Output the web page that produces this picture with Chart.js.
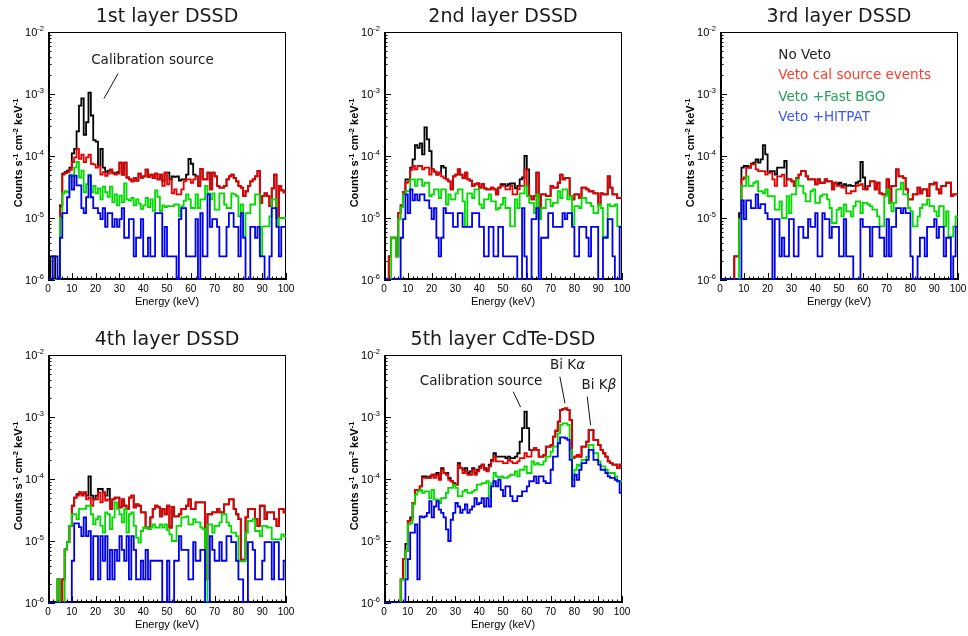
<!DOCTYPE html>
<html>
<head>
<meta charset="utf-8">
<title>Background spectra per layer</title>
<script src="https://cdn.jsdelivr.net/npm/chart.js@4.4.1/dist/chart.umd.min.js"></script>
<style>
  html, body { margin: 0; padding: 0; background: #fff; }
  #page { position: relative; width: 968px; height: 636px; overflow: hidden; }
  #page canvas { position: absolute; }
</style>
</head>
<body>
<div id="page">
  <canvas id="layer1" width="294" height="320" style="left:0px;top:0px"></canvas>
  <canvas id="layer2" width="294" height="320" style="left:336px;top:0px"></canvas>
  <canvas id="layer3" width="294" height="320" style="left:672px;top:0px"></canvas>
  <canvas id="layer4" width="294" height="320" style="left:0px;top:323px"></canvas>
  <canvas id="layer5" width="294" height="320" style="left:336px;top:323px"></canvas>
</div>
<script>
// spectra in 1 keV bins (0-100 keV), values in units of 1e-5 counts/s/cm2/keV
const UNIT = 1e-5;
const Y_MIN = 1e-6;
const Y_MAX = 1e-2;

const binLow = Array.from({ length: 100 }, (_, i) => i);
const xTickLabels = [0, 10, 20, 30, 40, 50, 60, 70, 80, 90, 100];
const yDecades = [-6, -5, -4, -3, -2];

const seriesNames = ["No Veto", "Veto cal source events", "Veto +Fast BGO", "Veto +HITPAT"];
const lineColors = ["#000000", "#e80000", "#00dc00", "#0000f0"];
const legendColors = ["#222222", "#ff3b2b", "#23a05e", "#3a55ff"];
const panelTitles = ["1st layer DSSD", "2nd layer DSSD", "3rd layer DSSD", "4th layer DSSD", "5th layer CdTe-DSD"];

// 1st layer
const l1NoVeto = [0,0.24,0.24,0,0,1.6,5.2,5.5,5.8,6.5, 11,13,25,65,85,22,35,105,45,18,
  17,7,13,6.5,5.5,5.8,6.0,5.4,5.2,5.5, 7.8,5.0,7.8,4.5,4.2,3.9,4.4,4.0,5.2,4.5,
  4.7,6.0,4.6,5.0,4.4,5.2,4.2,5.0,4.0,5.4, 5.4,4.2,4.7,4.6,4.7,4.0,4.2,4.2,5.0,9.0,
  7.5,5.0,4.7,3.3,6.2,4.2,4.2,5.4,2.9,5.4, 4.7,3.3,3.1,3.1,3.3,4.2,4.7,5.0,4.4,3.9,
  3.3,3.1,2.25,2.7,3.3,3.9,4.2,4.7,5.7,1.75, 2.25,2.5,2.25,1.55,3.0,5.0,1.0,3.3,2.8,2.6];
const l1VetoCal = [0,0,0,0,0,1.5,5.0,5.3,5.5,6.0, 8.0,9.5,13,9.0,10.5,8.0,9.5,10.5,7.5,7.3,
  6.5,6.9,5.0,5.5,4.8,5.2,6.0,5.2,5.0,5.2, 7.8,5.0,7.8,4.5,4.2,3.9,4.4,4.0,5.2,4.5,
  4.7,6.0,4.6,5.0,4.4,5.2,4.2,5.0,3.3,5.4, 3.5,4.2,2.5,2.9,2.4,2.4,2.9,3.9,4.2,4.2,
  3.7,4.2,4.7,3.3,6.2,4.2,4.2,5.4,2.9,5.4, 4.7,3.3,3.1,3.1,3.3,4.2,4.7,5.0,4.4,3.9,
  3.3,3.1,2.25,2.7,3.3,3.9,4.2,4.7,5.7,1.75, 2.25,2.5,2.25,1.55,3.0,5.0,1.0,3.3,2.8,2.6];
const l1FastBGO = [0,0,0,0,0,1.0,2.5,2.7,2.6,5.0, 4.8,6.5,8.0,4.5,5.8,2.6,3.5,5.0,2.6,3.3,
  2.5,3.0,2.0,3.2,2.6,2.2,3.2,1.8,2.4,1.6, 2.3,1.8,3.6,2.0,1.9,2.1,1.6,2.0,1.7,1.4,
  1.6,2.1,1.5,2.0,1.3,2.8,2.2,1.3,1.6,1.5, 1.55,1.55,1.55,1.65,1.65,1.06,1.55,1.9,2.4,2.0,
  1.45,1.45,2.4,1.45,2.0,2.0,3.3,2.5,2.0,2.5, 1.36,1.36,2.5,2.5,1.65,1.45,1.45,2.5,2.4,2.25,
  1.06,1.65,0.5,1.2,1.2,1.65,1.65,2.4,2.4,0.25, 0.73,0.73,0.73,1.06,2.0,2.0,0.73,1.0,1.0,1.0];
const l1Hitpat = [0,0,0.24,0.24,0,0.48,1.2,1.2,2.16,4.8, 2.88,4.8,3.36,3.36,1.44,1.2,2.16,4.8,2.16,1.44,
  1.44,1.2,0.96,1.44,0.72,1.2,1.2,0.72,0.96,0.72, 0.96,1.44,0.48,0.48,0.96,0.96,0.24,0.48,0.48,0.96,
  0.24,0.24,0.48,0.24,0.24,1.2,1.2,1.2,0.24,0.72, 0.24,0.24,0.24,0.24,0,0.96,1.44,1.44,0.24,0.24,
  0.24,0.24,0.96,0,1.2,0.24,0.24,2.4,0.72,0.96, 0.96,0.72,0.24,0.24,0.24,0.72,1.2,1.2,0.72,0.72,
  0.24,1.2,0.48,0,0,0.72,0.72,0.48,0.72,0.24, 0.24,0,0,0.24,1.44,1.44,0.72,0.24,0.72,0.72];

// 2nd layer
const l2NoVeto = [0,0,0.24,0.48,0.48,0.24,1.2,1.6,2.6,4.2, 4.2,6.5,8.8,15,13.5,16,10.6,29,18.6,12,
  6.1,5.6,5.0,5.4,6.9,6.5,4.2,3.9,2.9,4.7, 5.0,6.1,5.0,4.4,5.4,4.2,4.0,3.3,3.5,3.6,
  3.1,3.5,3.0,2.9,2.9,3.1,2.9,2.4,3.1,3.5, 3.5,3.3,3.5,3.6,3.6,3.0,3.3,4.2,4.5,10,
  6.1,2.25,2.0,2.25,5.4,1.0,2.4,2.4,2.25,2.25, 3.3,3.1,3.1,3.7,5.0,4.2,4.4,4.4,2.25,2.0,
  2.4,2.4,2.1,3.1,3.1,2.9,2.7,2.7,2.5,2.5, 1.65,2.5,2.4,2.4,4.7,3.1,2.4,2.4,2.1,2.1];
const l2VetoCal = [0,0,0.24,0.48,0.48,0.24,1.2,1.6,2.6,3.7, 3.9,6.0,6.9,6.1,6.9,6.9,6.1,6.5,6.5,5.0,
  6.1,5.6,5.0,5.4,4.7,4.4,4.2,3.9,2.9,4.7, 5.0,6.1,5.0,4.4,5.4,4.2,4.0,3.3,3.5,3.6,
  3.1,3.5,3.0,2.9,2.9,3.1,2.9,2.4,3.1,3.3, 3.3,2.9,2.9,3.3,2.4,2.4,2.9,3.3,3.3,6.1,
  3.3,2.25,2.0,2.25,5.4,1.0,2.4,2.4,2.25,2.25, 3.3,3.1,3.1,3.7,5.0,4.2,4.4,4.4,2.25,2.0,
  2.4,2.4,2.1,3.1,3.1,2.9,2.7,2.7,2.5,2.5, 1.65,2.5,2.4,2.4,4.7,3.1,2.4,2.4,2.1,2.1];
const l2FastBGO = [0,0,0,0.48,0.48,0.24,0.96,1.5,2.4,2.7, 2.7,4.2,4.2,3.3,4.2,4.2,3.3,3.7,3.7,2.25,
  2.4,2.9,2.9,2.1,2.9,2.9,1.65,2.4,2.0,2.0, 2.5,2.9,2.9,1.86,0.73,2.5,2.5,2.1,2.9,2.9,
  1.65,1.45,2.0,2.0,2.4,1.86,1.86,1.36,1.45,1.65, 2.1,1.45,1.45,0.73,0.73,2.0,1.45,2.5,2.5,3.3,
  2.25,1.75,1.75,1.2,2.4,0.96,1.45,1.45,2.0,2.0, 1.55,1.75,1.75,2.7,2.1,2.9,2.9,2.0,2.25,0.78,
  1.55,1.55,1.45,2.1,2.1,1.75,1.75,1.55,1.2,1.2, 1.65,1.45,0.5,0.5,1.65,1.55,1.55,1.65,0.73,0.73];
const l2Hitpat = [0,0,0,0,0,0,0,0.48,0.96,2.4, 1.2,2.88,1.92,2.4,1.92,2.4,2.4,1.92,1.92,1.44,
  0.96,1.44,0.48,0.24,0.48,1.44,1.2,1.2,1.2,0.72, 0.72,1.2,1.2,0.72,0.72,0.72,0.72,1.2,1.2,1.2,
  0.72,0.72,0.24,0.24,0.72,0.72,0.24,0.24,0.72,0.72, 0.24,0.24,0.24,0.24,0.24,0.24,0,0,1.44,0.24,
  0,0,0.96,0.96,1.44,0,0.48,0.48,0.48,1.2, 1.2,0.72,0.72,0.72,0.72,1.2,0.96,1.2,1.2,0.72,
  0.24,0.24,0.72,0.72,0.72,0.48,0.24,0.72,0.72,0.72, 0,0,0.48,0.48,0.96,0.96,0.24,0,0,0.72];

// 3rd layer
const l3NoVeto = [0,0,0,0,0,0,0.24,0.24,1.2,6.5, 6.9,6.9,6.5,7.5,7.8,8.8,7.8,8.8,15,10.6,
  5.4,5.7,5.7,5.0,6.5,6.5,6.5,8.3,4.2,4.2, 3.9,3.3,4.4,5.0,5.7,5.7,4.7,4.2,4.2,4.2,
  3.5,4.2,3.7,3.7,4.2,3.9,3.9,2.9,3.7,3.5, 3.7,3.3,3.5,3.3,3.4,3.3,3.3,3.7,3.9,8.0,
  4.5,2.9,3.3,3.9,3.9,2.9,3.7,2.5,2.4,2.4, 4.2,1.75,3.3,3.3,6.1,4.7,4.7,4.4,2.9,2.0,
  2.0,2.4,2.4,3.1,2.5,2.9,2.9,2.25,3.5,3.5, 3.7,2.9,2.5,3.3,3.3,3.7,3.7,2.25,2.4,2.4];
const l3VetoCal = [0,0,0,0,0,0,0.24,0.24,0.96,4.2, 4.5,6.5,6.5,7.3,7.3,6.1,5.7,5.7,5.7,5.0,
  5.4,5.4,4.2,3.3,4.7,4.7,5.0,3.3,4.2,4.2, 3.9,3.3,4.4,5.0,5.7,5.7,4.7,4.2,4.2,4.2,
  3.5,4.2,3.7,3.7,4.2,3.9,3.9,2.9,3.7,3.3, 3.3,3.1,3.1,2.5,2.5,2.7,2.7,3.3,3.4,3.5,
  2.9,2.9,3.3,3.9,3.9,2.9,3.7,2.5,2.4,2.4, 4.2,1.75,3.3,3.3,6.1,4.7,4.7,4.4,2.9,2.0,
  2.0,2.4,2.4,3.1,2.5,2.9,2.9,2.25,3.5,3.5, 3.7,2.9,2.5,3.3,3.3,3.7,3.7,2.25,2.4,2.4];
const l3FastBGO = [0,0,0,0,0,0,0,0,0.96,3.3, 3.3,4.7,3.3,3.3,3.7,3.9,2.7,2.7,2.5,2.9,
  2.25,2.25,2.25,1.36,1.36,1.86,1.0,1.0,2.25,1.2, 2.4,2.4,4.2,3.3,3.3,2.5,1.86,1.86,2.7,2.9,
  1.75,1.75,2.25,2.4,2.4,2.0,1.45,0.83,0.83,1.36, 1.45,1.06,1.65,1.28,1.28,1.06,1.55,1.86,1.86,1.2,
  1.75,1.75,1.65,1.55,1.36,1.36,1.06,0.73,0.73,2.25, 2.9,1.75,1.28,1.75,2.9,2.9,3.7,2.4,2.4,1.45,
  1.28,0.73,0.73,1.06,1.45,1.65,1.65,2.0,1.55,1.55, 1.28,1.06,1.55,1.55,0.73,1.28,0.5,0.5,0.73,1.06];
const l3Hitpat = [0,0,0,0,0,0,0,0,0,1.92, 0.96,1.92,1.92,1.44,1.44,2.4,1.44,1.68,1.68,1.2,
  0.96,0.96,0,0.96,0.96,0.24,0.48,0.24,0.24,0.96, 0.96,0.24,0.24,0.72,0.72,0.48,0.48,0.96,0.72,0.72,
  1.2,0.24,0.24,1.2,0.96,0.96,0.48,0.72,0.72,0.72, 0.24,0.24,0.96,0.24,0.24,0.24,0,0,0,0.96,
  0.72,0.72,0.72,0.24,0.72,0.72,0.72,0.48,0.48,0.24, 0.96,0.24,0.72,0.72,1.44,1.44,1.2,1.44,1.2,1.2,
  0.24,0,0,0.24,0.48,0.48,0.24,0.72,0.72,0.72, 0.96,0.48,0.72,0.72,0.24,0.48,0.48,0,0.24,0.72];

// 4th layer
const l4NoVeto = [0,0,0,0,0.24,0,0.24,0.73,0.96,1.75, 3.7,5.0,5.7,6.1,5.7,6.1,5.4,11,5.4,4.7,
  5.4,6.9,6.9,6.1,5.4,6.9,3.3,4.7,5.0,5.0, 3.5,4.7,3.7,3.3,5.0,5.4,3.5,3.9,3.7,2.9,
  2.9,1.65,1.55,2.4,3.3,3.7,3.5,2.5,3.3,2.7, 3.7,1.65,3.5,2.5,2.5,2.7,3.3,3.3,3.7,4.7,
  3.3,3.3,4.2,4.2,4.2,4.2,0.24,2.7,2.7,2.9, 2.9,3.3,2.9,2.9,3.9,3.9,4.7,4.7,3.3,2.7,
  2.25,0.5,0.5,2.4,3.3,3.3,3.3,2.25,1.75,3.7, 3.7,2.25,2.9,2.9,2.9,2.25,1.75,3.3,3.3,2.9];
const l4VetoCal = [0,0,0,0,0.24,0,0.24,0.73,0.96,1.75, 3.7,5.0,5.4,6.1,5.4,6.1,4.7,5.0,3.7,4.7,
  4.7,6.1,4.2,6.1,4.5,4.7,3.3,4.7,5.0,5.0, 3.5,4.7,3.7,3.3,5.0,5.4,3.5,3.9,3.7,2.9,
  2.9,1.65,1.55,2.4,3.3,3.7,3.5,2.5,3.3,2.7, 3.7,1.65,3.5,2.5,2.5,2.7,3.3,3.3,3.7,4.7,
  3.3,3.3,4.2,4.2,4.2,4.2,0.24,2.7,2.7,2.9, 2.9,3.3,2.9,2.9,3.9,3.9,4.7,4.7,3.3,2.7,
  2.25,0.5,0.5,2.4,3.3,3.3,3.3,2.25,1.75,3.7, 3.7,2.25,2.9,2.9,2.9,2.25,1.75,3.3,3.3,2.9];
const l4FastBGO = [0,0,0,0,0.24,0,0,0.73,0.96,1.75, 2.7,2.7,2.25,3.3,3.3,3.3,3.7,3.7,2.7,1.86,
  2.25,2.5,1.75,1.36,2.9,2.7,1.55,2.4,4.2,3.3, 2.7,2.0,3.3,1.36,2.7,2.9,1.75,1.13,0.94,1.45,
  1.65,1.65,1.55,1.65,1.86,1.65,1.65,1.86,1.65,1.86, 1.5,1.28,1.0,1.0,1.75,1.75,2.4,2.4,2.5,1.86,
  1.86,2.25,2.0,2.0,1.65,1.55,0,1.86,1.86,1.36, 1.75,1.75,2.0,2.7,2.7,2.0,1.75,1.36,1.36,1.2,
  0.47,0.47,0.47,1.36,2.1,2.1,2.25,1.45,1.45,1.2, 1.75,1.75,1.65,1.65,1.06,1.06,1.06,1.06,1.28,1.2];
const l4Hitpat = [0,0,0,0,0,0,0,0,0,0, 0.48,1.92,1.92,1.68,1.2,2.4,1.2,1.44,0.24,1.2,
  1.2,0.24,1.2,0.48,1.2,0.24,0.72,0.24,0.72,0.48, 1.2,0.72,0.48,1.2,0.24,1.2,0.72,0.24,0.24,0.48,
  0.24,0.72,0.24,0.48,0.48,0.48,0.48,0.48,0,0, 0.48,0,0,0.48,0.48,1.2,0.72,0.72,0.72,0.24,
  0.24,0.96,0.48,0.48,0.72,0.72,0,0,1.2,0.72, 0.48,0.48,0.96,0.48,0.48,1.2,1.2,0.96,0.96,0.48,
  0.24,0.24,0,0,0.96,0.96,0.72,0.24,0.24,0.24, 0.48,0.96,0.96,0.96,0.24,0.96,0.96,0.24,0.24,0.48];

// 5th layer (CdTe)
const l5NoVeto = [0,0,0,0,0,0,0,0.24,0.51,0.9, 2.1,2.4,4.1,6.7,6.7,7.6,11,11,10.4,11,
  11.7,11.7,12.5,10.4,15,12.5,12.5,10.4,9.2,8.6, 8.1,18,15,14.1,15,12.5,13.3,15,12.5,14.1,
  16,17,15,14.1,17,20.4,26,23,23,23, 23,21.7,23,21.7,21.7,23,26,40,66,122,
  66,29.5,29.5,31.4,29.5,23,23,24.5,33.4,33.4, 35.5,48.3,60,84,130,135,138,130,89.5,21.7,
  23,24.5,23,33.4,33.4,40,61.8,61.8,42.7,42.7, 35.5,29.5,26,23,19.2,18,17,17,15,17];
const l5VetoCal = [0,0,0,0,0,0,0,0.24,0.51,0.69, 2.1,2.2,4.1,6.7,6.7,7.6,10.4,10.4,10.4,10.4,
  11.7,10.4,11.7,9.7,14.1,12.5,11.7,9.7,9.2,8.1, 8.1,17,15,12.5,13.3,11.7,11.7,14.1,11.7,13.3,
  15,17,14.1,13.3,16,19.2,23,19.2,19.2,19.2, 18,18,20.4,19.2,18,18,19.2,21.7,21.7,26,
  23,23,29.5,31.4,29.5,23,23,24.5,33.4,33.4, 35.5,48.3,60,84,130,135,138,130,89.5,21.7,
  23,24.5,23,33.4,33.4,40,61.8,61.8,42.7,42.7, 35.5,29.5,26,23,19.2,18,17,17,15,17];
const l5FastBGO = [0,0,0,0,0,0,0,0.24,0.24,0.69, 1.85,1.95,3.9,5.6,6.3,6.7,6.0,6.3,6.3,4.9,
  6.7,4.7,4.7,4.1,4.9,4.9,6.0,7.2,7.2,8.1, 7.2,5.3,5.3,6.3,6.7,6.0,6.0,6.3,6.7,8.1,
  8.1,8.6,8.6,9.2,5.3,8.6,12.5,11,10.4,11, 10.4,10.4,11,11.7,11.7,13.3,11,14.1,14.1,16,
  12.5,12.5,19.2,17,18,17,17,19.2,23,23, 27.7,33.4,33.4,54.6,74.4,79.1,79.1,74.4,29.5,9.7,
  14.1,17,16,20.4,20.4,23,35.5,35.5,26,26, 19.2,16,16,14.1,12.5,12.5,12.5,11,9.2,9.2];
const l5Hitpat = [0,0,0,0,0,0,0,0,0,0.24, 0.51,1.36,1.36,1.85,0.24,2.5,2.4,2.5,2.85,4.4,
  2.4,3.6,4.4,3.2,2.85,2.4,1.54,1.0,2.2,2.85, 4.1,3.6,2.85,3.2,3.9,2.85,3.2,3.6,4.9,3.9,
  4.1,4.9,3.6,4.9,3.6,7.6,9.2,7.6,9.7,6.7, 5.3,7.6,7.6,5.3,4.4,4.4,5.3,5.3,6.3,6.3,
  7.6,9.2,9.2,11,8.6,11,11,9.2,8.6,8.6, 14.1,23,23,37.7,47,47,45.4,42.7,20.4,7.6,
  11.7,9.7,14.1,18,18,20.4,29.5,29.5,20.4,20.4, 17,14.1,14.1,12.5,11,10.4,10.4,9.7,9.2,6.0];

const TEXT_FONT = "'DejaVu Sans', 'Noto Sans', sans-serif";
const SANS = "'Liberation Sans', Arial, Helvetica, sans-serif";

// annotations are placed in data coordinates [keV, value]
const panels = [
  { canvas: "layer1", title: panelTitles[0], series: [l1NoVeto, l1VetoCal, l1FastBGO, l1Hitpat],
    notes: [{ parts: [["Calibration source", ""]], at: [43.9, 3.45e-3], arrow: [[29.4, 2.13e-3], [23.5, 8.4e-4]] }] },
  { canvas: "layer2", title: panelTitles[1], series: [l2NoVeto, l2VetoCal, l2FastBGO, l2Hitpat], notes: [] },
  { canvas: "layer3", title: panelTitles[2], series: [l3NoVeto, l3VetoCal, l3FastBGO, l3Hitpat], notes: [],
    legend: { x: 24.5, rows: [4.24e-3, 1.98e-3, 8.87e-4, 4.22e-4] } },
  { canvas: "layer4", title: panelTitles[3], series: [l4NoVeto, l4VetoCal, l4FastBGO, l4Hitpat], notes: [] },
  { canvas: "layer5", title: panelTitles[4], series: [l5NoVeto, l5VetoCal, l5FastBGO, l5Hitpat],
    notes: [
      { parts: [["Calibration source", ""]], at: [40.8, 3.8e-3], arrow: [[54.3, 2.56e-3], [57.4, 1.44e-3]] },
      { parts: [["Bi K", ""], ["\u03b1", "italic "]], at: [77.1, 6.65e-3], arrow: [[73.9, 4.47e-3], [76.05, 1.66e-3]] },
      { parts: [["Bi K", ""], ["\u03b2", "italic "]], at: [90.3, 3.28e-3], arrow: [[85.4, 2.12e-3], [86.8, 7.4e-4]] },
    ] },
];
const panelById = {};
panels.forEach(function (p) { panelById[p.canvas] = p; });

// histogram outline: each bin gives a flat segment from its low to its high edge
function histPoints(values) {
  const pts = [];
  values.forEach(function (v, i) {
    const y = v > 0 ? v * UNIT : Y_MIN;
    pts.push({ x: binLow[i], y: y });
    pts.push({ x: binLow[i] + 1, y: y });
  });
  return pts;
}

// text with raised pieces, e.g. 10^-2
function richWidth(ctx, parts, base, sup) {
  let w = 0;
  parts.forEach(function (p) { ctx.font = p[1] ? sup : base; w += ctx.measureText(p[0]).width; });
  return w;
}
function drawRich(ctx, parts, x, y, base, sup, rise) {
  parts.forEach(function (p) {
    ctx.font = p[1] ? sup : base;
    ctx.fillText(p[0], x, p[1] ? y - rise : y);
    x += ctx.measureText(p[0]).width;
  });
}

const rootStyle = {
  id: "rootStyle",
  beforeDatasetsDraw(chart) {
    const ctx = chart.ctx;
    const a = chart.chartArea;
    const xs = chart.scales.x;
    const ys = chart.scales.y;
    ctx.save();
    ctx.strokeStyle = "#000";
    ctx.lineWidth = 1;
    ctx.strokeRect(a.left + 0.5, a.top + 0.5, a.right - a.left - 1, a.bottom - a.top - 1);
    ctx.lineWidth = 2;
    ctx.beginPath();
    ctx.moveTo(a.left + 1, a.top);
    ctx.lineTo(a.left + 1, a.bottom - 1);
    ctx.lineTo(a.right, a.bottom - 1);
    ctx.stroke();

    // inward ticks
    ctx.lineWidth = 1;
    ctx.beginPath();
    for (let e = 0; e <= 100; e += 2) {
      const px = Math.round(xs.getPixelForValue(e)) + 0.5;
      ctx.moveTo(px, a.bottom);
      ctx.lineTo(px, a.bottom - (e % 10 === 0 ? 7 : 3.5));
    }
    yDecades.forEach(function (d) {
      for (let m = 1; m <= 9; m++) {
        const v = m * Math.pow(10, d);
        if (v > Y_MAX * 1.001) break;
        const py = Math.round(ys.getPixelForValue(v)) + 0.5;
        ctx.moveTo(a.left, py);
        ctx.lineTo(a.left + (m === 1 ? 7 : 3.5), py);
      }
    });
    ctx.stroke();
    ctx.restore();
  },
  afterDraw(chart) {
    const panel = panelById[chart.canvas.id];
    const ctx = chart.ctx;
    const a = chart.chartArea;
    const xs = chart.scales.x;
    const ys = chart.scales.y;
    const midX = (a.left + a.right) / 2;
    const midY = (a.top + a.bottom) / 2;
    ctx.save();
    ctx.fillStyle = "#000";

    // x tick labels and title
    ctx.textAlign = "center";
    ctx.textBaseline = "middle";
    ctx.font = "10px " + SANS;
    xTickLabels.forEach(function (t) { ctx.fillText(String(t), xs.getPixelForValue(t), a.bottom + 9); });
    ctx.font = "11px " + SANS;
    ctx.fillText("Energy (keV)", midX, a.bottom + 22);

    // y tick labels
    ctx.textAlign = "left";
    ctx.textBaseline = "alphabetic";
    const base = "11px " + SANS, sup = "7.5px " + SANS;
    yDecades.forEach(function (d) {
      const parts = [["10", false], [String(d), true]];
      const w = richWidth(ctx, parts, base, sup);
      const py = ys.getPixelForValue(Math.pow(10, d));
      drawRich(ctx, parts, a.left - 4 - w, py + 4, base, sup, 5);
    });

    // y axis title
    ctx.save();
    ctx.translate(a.left - 26, midY - 3);
    ctx.rotate(-Math.PI / 2);
    const tb = "bold 11px " + SANS, ts = "bold 7.5px " + SANS;
    const yt = [["Counts s", false], ["-1", true], [" cm", false], ["-2", true], [" keV", false], ["-1", true]];
    const ytw = richWidth(ctx, yt, tb, ts);
    drawRich(ctx, yt, -ytw / 2, 0, tb, ts, 4.5);
    ctx.restore();

    // panel title
    ctx.textAlign = "center";
    ctx.textBaseline = "middle";
    ctx.fillStyle = "#1a1a1a";
    ctx.font = "19px " + TEXT_FONT;
    ctx.fillText(panel.title, midX, a.top - 15);

    // annotations with pointer lines
    panel.notes.forEach(function (n) {
      const cx = xs.getPixelForValue(n.at[0]);
      const cy = ys.getPixelForValue(n.at[1]);
      let w = 0;
      n.parts.forEach(function (p) {
        ctx.font = p[1] + "13.5px " + TEXT_FONT;
        w += ctx.measureText(p[0]).width;
      });
      let x = cx - w / 2;
      ctx.textAlign = "left";
      n.parts.forEach(function (p) {
        ctx.font = p[1] + "13.5px " + TEXT_FONT;
        ctx.fillText(p[0], x, cy);
        x += ctx.measureText(p[0]).width;
      });
      ctx.strokeStyle = "#111";
      ctx.lineWidth = 1;
      ctx.beginPath();
      ctx.moveTo(xs.getPixelForValue(n.arrow[0][0]), ys.getPixelForValue(n.arrow[0][1]));
      ctx.lineTo(xs.getPixelForValue(n.arrow[1][0]), ys.getPixelForValue(n.arrow[1][1]));
      ctx.stroke();
    });

    // legend as coloured text lines
    if (panel.legend) {
      ctx.textAlign = "left";
      ctx.textBaseline = "middle";
      ctx.font = "13.5px " + TEXT_FONT;
      panel.legend.rows.forEach(function (v, k) {
        ctx.fillStyle = legendColors[k];
        ctx.fillText(seriesNames[k], xs.getPixelForValue(panel.legend.x), ys.getPixelForValue(v));
      });
    }
    ctx.restore();
  },
};

panels.forEach(function (panel) {
  new Chart(document.getElementById(panel.canvas), {
    type: "line",
    data: {
      datasets: panel.series.map(function (values, k) {
        return {
          label: seriesNames[k],
          data: histPoints(values),
          borderColor: lineColors[k],
          borderWidth: 1.8,
          pointRadius: 0,
          tension: 0,
          fill: false,
          order: 4 - k,
        };
      }),
    },
    options: {
      responsive: false,
      animation: false,
      events: [],
      layout: { padding: { left: 48, top: 32, right: 8, bottom: 40 } },
      scales: {
        x: { type: "linear", min: 0, max: 100, display: false },
        y: { type: "logarithmic", min: Y_MIN, max: Y_MAX, display: false },
      },
      plugins: {
        legend: { display: false },
        tooltip: { enabled: false },
      },
    },
    plugins: [rootStyle],
  });
});
</script>
</body>
</html>
